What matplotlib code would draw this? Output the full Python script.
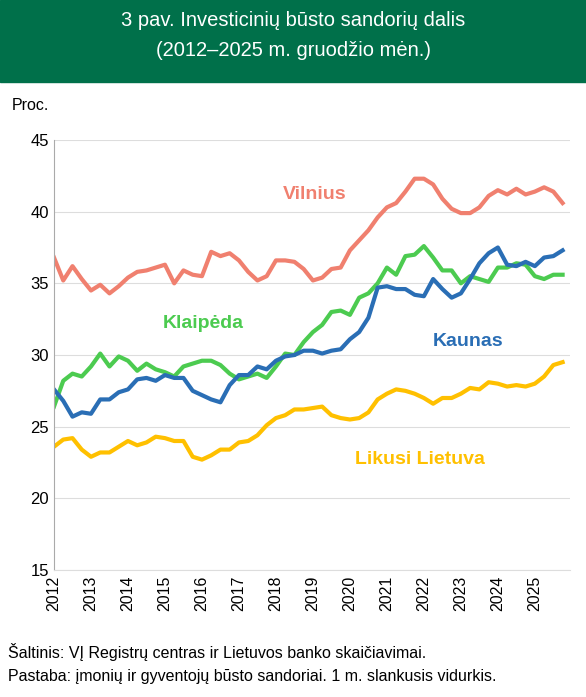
import numpy as np
import matplotlib.pyplot as plt
from matplotlib.patches import Rectangle

plt.rcParams['font.family'] = ['Liberation Sans', 'DejaVu Sans']

# quarterly data 2012Q1 - 2025Q4
vilnius = [36.8, 35.2, 36.2, 35.3, 34.5, 34.9, 34.3, 34.8, 35.4, 35.8, 35.9, 36.1, 36.3, 35.0, 35.9, 35.6,
           35.5, 37.2, 36.9, 37.1, 36.6, 35.8, 35.2, 35.5, 36.6, 36.6, 36.5, 36.0, 35.2, 35.4, 36.0, 36.1,
           37.3, 38.0, 38.7, 39.6, 40.3, 40.6, 41.4, 42.3, 42.3, 41.9, 40.9, 40.2, 39.9, 39.9, 40.3, 41.1,
           41.5, 41.2, 41.6, 41.2, 41.4, 41.7, 41.4, 40.6]
kaunas = [27.6, 26.8, 25.7, 26.0, 25.9, 26.9, 26.9, 27.4, 27.6, 28.3, 28.4, 28.2, 28.6, 28.4, 28.4, 27.5,
          27.2, 26.9, 26.7, 27.9, 28.6, 28.6, 29.2, 29.0, 29.6, 29.9, 30.0, 30.3, 30.3, 30.1, 30.3, 30.4,
          31.1, 31.6, 32.6, 34.7, 34.8, 34.6, 34.6, 34.2, 34.1, 35.3, 34.6, 34.0, 34.3, 35.3, 36.4, 37.1,
          37.5, 36.3, 36.2, 36.5, 36.2, 36.8, 36.9, 37.3]
klaipeda = [26.4, 28.2, 28.7, 28.5, 29.2, 30.1, 29.2, 29.9, 29.6, 28.9, 29.4, 29.0, 28.8, 28.5, 29.2, 29.4,
            29.6, 29.6, 29.3, 28.7, 28.3, 28.5, 28.7, 28.4, 29.2, 30.1, 30.0, 30.9, 31.6, 32.1, 33.0, 33.1,
            32.8, 34.0, 34.3, 35.0, 36.1, 35.6, 36.9, 37.0, 37.6, 36.8, 35.9, 35.9, 35.0, 35.5, 35.3, 35.1,
            36.1, 36.1, 36.4, 36.3, 35.5, 35.3, 35.6, 35.6]
likusi = [23.6, 24.1, 24.2, 23.4, 22.9, 23.2, 23.2, 23.6, 24.0, 23.7, 23.9, 24.3, 24.2, 24.0, 24.0, 22.9,
          22.7, 23.0, 23.4, 23.4, 23.9, 24.0, 24.4, 25.1, 25.6, 25.8, 26.2, 26.2, 26.3, 26.4, 25.8, 25.6,
          25.5, 25.6, 26.0, 26.9, 27.3, 27.6, 27.5, 27.3, 27.0, 26.6, 27.0, 27.0, 27.3, 27.7, 27.6, 28.1,
          28.0, 27.8, 27.9, 27.8, 28.0, 28.5, 29.3, 29.5]
years = list(range(2012, 2026))

t = 2012 + np.arange(len(vilnius)) / 4.0

fig = plt.figure(figsize=(5.86, 6.97), dpi=100)
fig.patches.append(Rectangle((0, 1 - 82/697), 1, 82/697, transform=fig.transFigure,
                             color='#00704A', zorder=0))
fig.text(0.5, 1 - 20/697, "3 pav. Investicinių būsto sandorių dalis", color='white',
         ha='center', va='center', fontsize=14.5)
fig.text(0.5, 1 - 51/697, "(2012–2025 m. gruodžio mėn.)", color='white',
         ha='center', va='center', fontsize=14.5)
fig.text(12/586, 1 - 106/697, "Proc.", fontsize=11.5, va='center')

ax = fig.add_axes([54/586, 1 - 570/697, 516/586, 430/697])
cols = {'v': '#F0806F', 'k': '#2A6EB5', 'kl': '#4CCB50', 'l': '#FFC000'}
ax.plot(t, vilnius, color=cols['v'], lw=3)
ax.plot(t, klaipeda, color=cols['kl'], lw=3)
ax.plot(t, kaunas, color=cols['k'], lw=3)
ax.plot(t, likusi, color=cols['l'], lw=3)

ax.text(2018.2, 40.9, "Vilnius", color=cols['v'], fontsize=14, fontweight='bold')
ax.text(2014.95, 31.9, "Klaipėda", color=cols['kl'], fontsize=14, fontweight='bold')
ax.text(2022.25, 30.6, "Kaunas", color=cols['k'], fontsize=14, fontweight='bold')
ax.text(2020.15, 22.4, "Likusi Lietuva", color=cols['l'], fontsize=14, fontweight='bold')

ax.set_xlim(2012, 2025.95)
ax.set_ylim(15, 45)
ax.set_yticks(range(15, 46, 5))
ax.set_xticks(years)
ax.set_xticklabels([str(y) for y in years], rotation=90, fontsize=11.5)
ax.tick_params(axis='y', labelsize=12, length=0)
ax.tick_params(axis='x', length=0, pad=4)
ax.grid(axis='y', color='#DDDDDD', lw=0.8)
ax.set_axisbelow(True)
for s in ['top', 'right']:
    ax.spines[s].set_visible(False)
ax.spines['left'].set_color('#AAAAAA')
ax.spines['bottom'].set_color('#DDDDDD')

fig.text(8/586, 1 - 652/697, "Šaltinis: VĮ Registrų centras ir Lietuvos banko skaičiavimai.",
         fontsize=11.5, va='center')
fig.text(8/586, 1 - 677/697, "Pastaba: įmonių ir gyventojų būsto sandoriai. 1 m. slankusis vidurkis.",
         fontsize=11.5, va='center')

fig.savefig("out.png", dpi=100)
